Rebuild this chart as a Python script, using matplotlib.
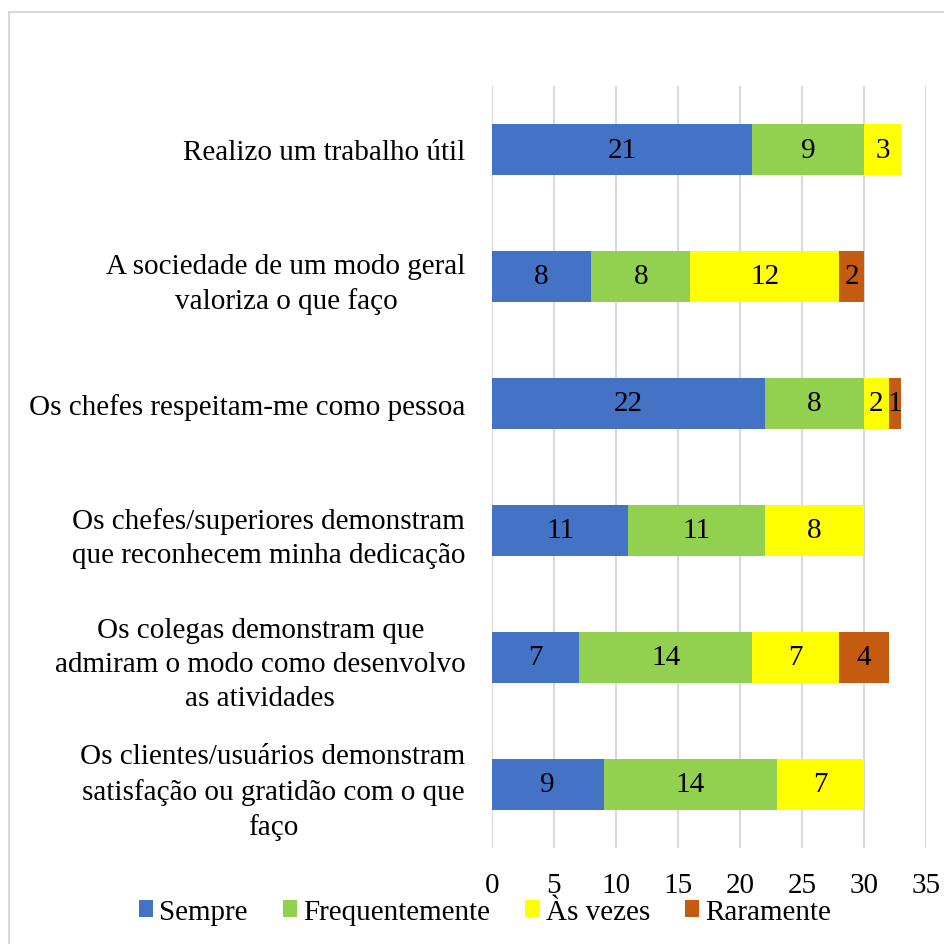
import numpy as np
import matplotlib.pyplot as plt
from matplotlib.patches import Rectangle

plt.rcParams['font.family'] = ['Liberation Serif', 'DejaVu Serif']

categories = [
    'Realizo um trabalho útil',
    'A sociedade de um modo geral\nvaloriza o que faço',
    'Os chefes respeitam-me como pessoa',
    'Os chefes/superiores demonstram\nque reconhecem minha dedicação',
    'Os colegas demonstram que\nadmiram o modo como desenvolvo\nas atividades',
    'Os clientes/usuários demonstram\nsatisfação ou gratidão com o que\nfaço',
]
series_names = ['Sempre', 'Frequentemente', 'Às vezes', 'Raramente']
sempre = [21, 8, 22, 11, 7, 9]
frequentemente = [9, 8, 8, 11, 14, 14]
as_vezes = [3, 12, 2, 8, 7, 7]
raramente = [0, 2, 1, 0, 4, 0]
colors = ['#4472C4', '#92D050', '#FFFF00', '#C55A11']

FS = 21
W, H = 944, 945
fig = plt.figure(figsize=(W / 100, H / 100), dpi=100)

# light frame around the chart area
fig.patches.append(Rectangle((9 / W, -0.1), 1.2, (H - 13) / H + 0.1,
                             transform=fig.transFigure, fill=False,
                             edgecolor='#D9D9D9', linewidth=1.5))

ax = fig.add_axes([492 / W, (H - 849) / H, (926 - 492) / W, (849 - 87) / H])

y = np.arange(len(categories))
left = np.zeros(len(categories))
for name, vals, c in zip(series_names, [sempre, frequentemente, as_vezes, raramente], colors):
    vals = np.array(vals)
    bars = ax.barh(y, vals, left=left, height=0.4, color=c, label=name, zorder=3)
    for b, v in zip(bars, vals):
        if v > 0:
            ax.text(b.get_x() + b.get_width() / 2, b.get_y() + b.get_height() / 2,
                    str(v), ha='center', va='center', fontsize=FS, zorder=4)
    left += vals

ax.set_xlim(0, 35)
ax.set_ylim(len(categories) - 0.5, -0.5)
ax.set_xticks(range(0, 36, 5))
ax.set_yticks(y)
ax.set_yticklabels(categories, fontsize=FS, multialignment='center', linespacing=1.4)
ax.tick_params(axis='y', length=0, pad=19)
ax.tick_params(axis='x', length=0, pad=17, labelsize=FS)
ax.grid(axis='x', color='#D9D9D9', linewidth=1.5, zorder=0)
for s in ax.spines.values():
    s.set_visible(False)

fig.legend(loc='center', bbox_to_anchor=(485 / W, (H - 913) / H), ncol=4,
           frameon=False, fontsize=FS, handlelength=0.5, handleheight=0.5,
           handletextpad=0.2, columnspacing=1.2, borderaxespad=0)

fig.savefig('out.png', dpi=100)
